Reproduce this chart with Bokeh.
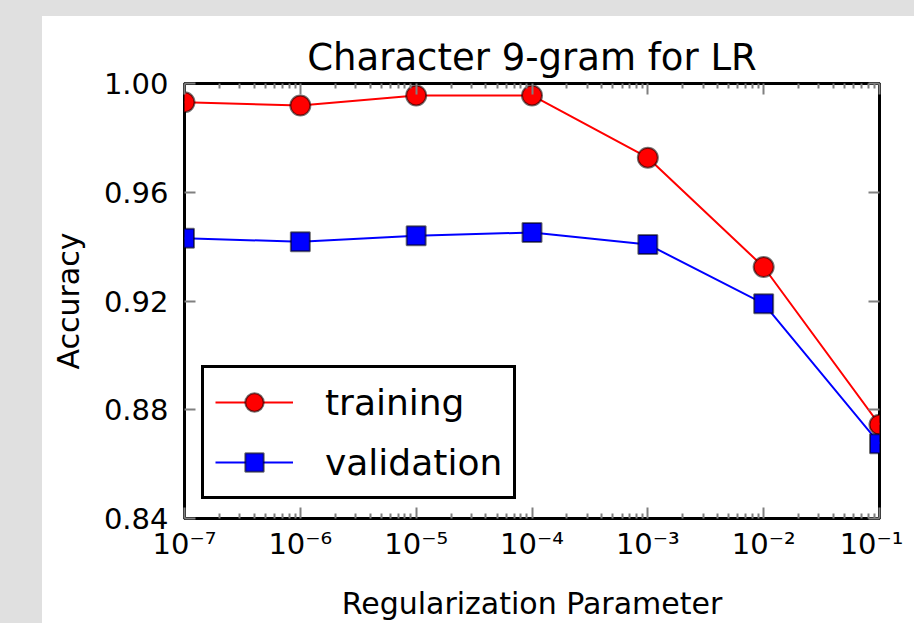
from bokeh.plotting import figure
from bokeh.models import (FixedTicker, LogAxis, LinearAxis, Legend, LegendItem,
                          Range1d, PrintfTickFormatter, Column, CustomJSTickFormatter,
                          GlobalInlineStyleSheet)
from bokeh.embed import file_html
from bokeh.resources import INLINE

# ---- data ----
reg_params = [1e-7, 1e-6, 1e-5, 1e-4, 1e-3, 1e-2, 1e-1]
training_acc = [0.9931, 0.9919, 0.9956, 0.9956, 0.9727, 0.9325, 0.8745]
validation_acc = [0.9431, 0.9418, 0.9440, 0.9452, 0.9408, 0.9190, 0.8675]
x_ticks = [1e-7, 1e-6, 1e-5, 1e-4, 1e-3, 1e-2, 1e-1]
x_tick_labels = ["10\u207b\u2077", "10\u207b\u2076", "10\u207b\u2075", "10\u207b\u2074",
                 "10\u207b\u00b3", "10\u207b\u00b2", "10\u207b\u00b9"]
x_minor_ticks = [m * d for d in x_ticks[:-1] for m in range(2, 10)]
y_ticks = [0.84, 0.88, 0.92, 0.96, 1.00]
title_text = "Character 9-gram for LR"
x_label = "Regularization Parameter"
y_label = "Accuracy"
series_names = ["training", "validation"]

FONT = "DejaVu Sans"
TICK_COLOR = "#808080"
GRAY = "#e0e0e0"

p = figure(width=903, height=623, x_axis_type="log",
           x_range=Range1d(1e-7, 1e-1), y_range=Range1d(0.84, 1.00),
           output_backend="svg", toolbar_location=None,
           min_border_left=184, min_border_right=24,
           min_border_top=83, min_border_bottom=104,
           title=title_text)
p.background_fill_color = "white"
p.border_fill_color = None
p.outline_line_color = "black"
p.outline_line_width = 3
p.grid.visible = False

p.title.align = "center"
p.title.text_font = FONT
p.title.text_font_size = "37px"
p.title.text_font_style = "normal"
p.title.text_color = "black"
p.title.standoff = 10

xticker = FixedTicker(ticks=x_ticks, minor_ticks=x_minor_ticks)
yticker = FixedTicker(ticks=y_ticks, minor_ticks=[])

def style_axis(ax):
    ax.axis_line_color = None
    ax.major_tick_in = 11
    ax.major_tick_out = 0
    ax.minor_tick_in = 5
    ax.minor_tick_out = 0
    ax.major_tick_line_color = TICK_COLOR
    ax.major_tick_line_width = 2
    ax.minor_tick_line_color = TICK_COLOR
    ax.minor_tick_line_width = 2
    ax.major_label_text_font = FONT
    ax.major_label_text_font_size = "29px"
    ax.major_label_text_color = "black"
    ax.axis_label_text_font = FONT
    ax.axis_label_text_font_size = "30px"
    ax.axis_label_text_font_style = "normal"
    ax.axis_label_text_color = "black"

xa = p.xaxis[0]
xa.ticker = xticker
xa.major_label_overrides = {t: lab for t, lab in zip(x_ticks, x_tick_labels)}
xa.axis_label = x_label
xa.major_label_standoff = 8
xa.axis_label_standoff = 22
style_axis(xa)

ya = p.yaxis[0]
ya.ticker = yticker
ya.formatter = PrintfTickFormatter(format="%.2f")
ya.axis_label = y_label
ya.major_label_standoff = 16
ya.axis_label_standoff = 15
style_axis(ya)
ya.minor_tick_line_color = None

blank = CustomJSTickFormatter(code="return ''")

top = LogAxis(ticker=xticker, formatter=blank)
style_axis(top)
top.major_label_standoff = 0
top.major_label_text_font_size = "10px"
p.add_layout(top, "above")

right = LinearAxis(ticker=yticker, formatter=blank)
style_axis(right)
right.major_label_standoff = 0
right.major_label_text_font_size = "10px"
right.minor_tick_line_color = None
p.add_layout(right, "right")

# ---- series ----
tr_line = p.line(reg_params, training_acc, line_color="red", line_width=2)
tr_pts = p.scatter(reg_params, training_acc, marker="circle", size=20,
                   fill_color="red", line_color="black", line_alpha=0.55, line_width=2)
va_line = p.line(reg_params, validation_acc, line_color="blue", line_width=2)
va_pts = p.scatter(reg_params, validation_acc, marker="square", size=19,
                   fill_color="blue", line_color="black", line_alpha=0.55, line_width=2)

legend = Legend(items=[LegendItem(label=series_names[0], renderers=[tr_line, tr_pts]),
                       LegendItem(label=series_names[1], renderers=[va_line, va_pts])],
                location=(17, 19), orientation="vertical",
                glyph_width=78, glyph_height=46, label_height=46,
                label_standoff=32, spacing=14, padding=11, margin=0,
                border_line_color="black", border_line_width=3, border_line_alpha=1,
                background_fill_color="white", background_fill_alpha=1,
                label_text_font=FONT, label_text_font_size="36px",
                label_text_color="black")
p.add_layout(legend, "center")

page_css = GlobalInlineStyleSheet(
    css="html, body { margin: 0; padding: 0; overflow: hidden; background: white; }")

page = Column(children=[p], width=914, height=623,
              stylesheets=[page_css],
              styles={
                  "background-color": "white",
                  "background-image": f"linear-gradient({GRAY}, {GRAY}), linear-gradient({GRAY}, {GRAY})",
                  "background-size": "100% 16px, 42px 100%",
                  "background-position": "0 0, 0 0",
                  "background-repeat": "no-repeat",
              })

open("out.html", "w").write(file_html(page, INLINE))
